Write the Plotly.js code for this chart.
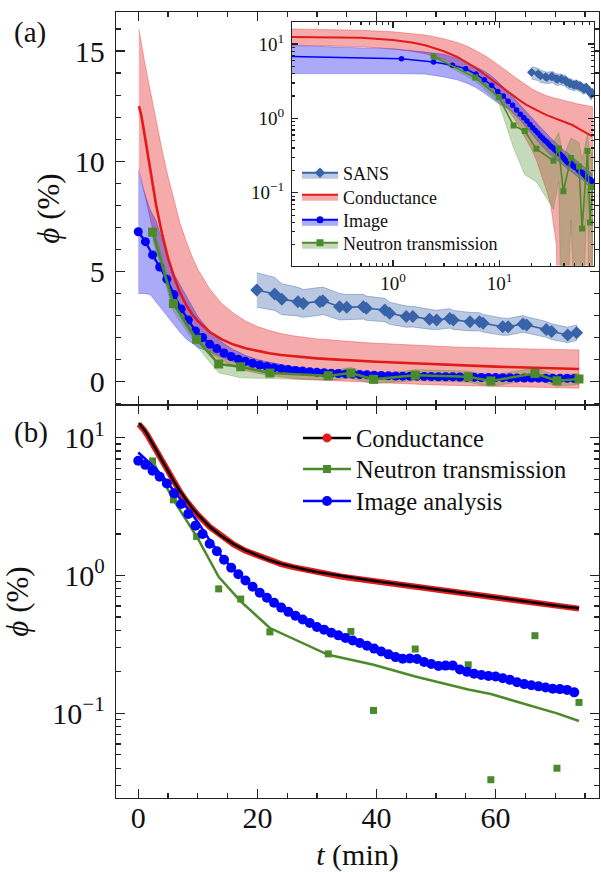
<!DOCTYPE html>
<html><head><meta charset="utf-8">
<script src="https://cdn.plot.ly/plotly-3.0.1.min.js"></script>
<style>html,body{margin:0;padding:0;background:#fff}#chart{width:601px;height:872px}</style>
</head><body><div id="chart"></div>
<script>
// ---------- data ----------
// Conductance (t in min, phi in %)
const tCond = [0.1,0.5,1,1.5,2,3,4,5,6,7,8,9,10,12,14,16,18,20,22,24,26,28,30,32,34,36,38,40,42,44,46,48,50,52,53,54,56,58,60,62,64,66,68,70,72,74];
const cond = [12.5,12.1,11.3,10.5,9.6,8.0,6.7,5.6,4.75,4.05,3.5,3.07,2.75,2.25,1.92,1.68,1.51,1.39,1.29,1.21,1.15,1.1,1.055,1.02,0.985,0.955,0.93,0.905,0.88,0.855,0.835,0.815,0.795,0.775,0.75,0.74,0.72,0.70,0.68,0.665,0.65,0.635,0.62,0.605,0.59,0.575];
const condFit = [12.8,12.2,11.4,10.6,9.7,8.05,6.75,5.65,4.8,4.1,3.55,3.1,2.77,2.26,1.93,1.69,1.52,1.395,1.295,1.215,1.155,1.105,1.06,1.025,0.99,0.96,0.935,0.91,0.885,0.862,0.84,0.82,0.8,0.779,0.768,0.757,0.735,0.713,0.692,0.672,0.654,0.637,0.621,0.606,0.592,0.578];
const condUpper = [16.0,15.3,14.6,13.9,13.2,11.8,10.5,9.3,8.2,7.2,6.4,5.7,5.1,4.2,3.55,3.1,2.75,2.5,2.32,2.18,2.08,2.0,1.94,1.9,1.85,1.81,1.77,1.74,1.71,1.69,1.66,1.63,1.61,1.59,1.57,1.56,1.55,1.53,1.52,1.5,1.49,1.48,1.47,1.46,1.45,1.44];
const condLower = [9.7,9.2,8.6,8.0,7.4,6.2,5.2,4.3,3.6,3.0,2.5,2.1,1.8,1.3,0.95,0.7,0.5,0.38,0.28,0.2,0.14,0.1,0.07,0.04,0.02,0.0,-0.02,-0.05,-0.07,-0.09,-0.11,-0.13,-0.15,-0.17,-0.19,-0.2,-0.21,-0.22,-0.23,-0.24,-0.25,-0.26,-0.27,-0.28,-0.29,-0.3];

// Image analysis
const tImg = [0,1.2,2.4,3.6,4.8,6.0,7.2,8.4,9.6,10.8,12.0,13.2,14.4,15.6,16.8,18.0,19.2,20.4,21.6,22.8,24.0,25.2,26.4,27.6,28.8,30.0,31.2,32.4,33.6,34.8,36.0,37.2,38.4,39.6,40.8,42.0,43.2,44.4,45.6,46.8,48.0,49.2,50.4,51.6,52.8,54.0,55.2,56.4,57.6,58.8,60.0,61.2,62.4,63.6,64.8,66.0,67.2,68.4,69.6,70.8,72.0,73.2];
const img = [6.8,6.35,5.75,5.2,4.65,3.95,3.3,2.8,2.3,2.0,1.7,1.5,1.3,1.14,1.02,0.92,0.83,0.75,0.69,0.635,0.585,0.545,0.51,0.48,0.452,0.423,0.405,0.385,0.368,0.352,0.338,0.324,0.31,0.295,0.281,0.268,0.256,0.249,0.25,0.248,0.236,0.228,0.221,0.222,0.222,0.208,0.2,0.194,0.19,0.187,0.185,0.18,0.175,0.168,0.163,0.16,0.157,0.154,0.151,0.15,0.148,0.142];
const tImgBand = [0,1,2,3,4,5,6,7,8,9,10,12,14,16,18,20,25,30,35,40,45,50,55,60,65,70,73.2];
const imgUpper = [9.6,8.6,7.8,7.3,6.4,5.6,4.9,4.4,3.9,3.4,2.95,2.3,1.8,1.45,1.2,1.0,0.72,0.55,0.44,0.37,0.33,0.29,0.26,0.23,0.21,0.19,0.18];
const imgLower = [4.0,4.0,3.95,3.6,3.3,2.95,2.6,2.25,1.95,1.75,1.55,1.35,1.1,0.9,0.74,0.62,0.42,0.32,0.27,0.23,0.2,0.18,0.16,0.15,0.13,0.12,0.11];
const tImgFit = [0,2,4,6,8,10,12,14,16,18,20,24,28,32,36,40,45,50,55,60,65,70,73.2];
const imgFit = [7.8,6.5,5.3,4.1,3.15,2.45,1.8,1.38,1.1,0.92,0.77,0.58,0.47,0.39,0.34,0.29,0.255,0.228,0.205,0.185,0.165,0.152,0.143];

// Neutron transmission
const tNeu = [2.4,5.9,9.8,13.5,17.2,22.1,31.9,35.7,39.5,46.5,55.4,59.2,66.6,70.3,74.0];
const neu = [6.78,3.54,1.92,0.80,0.675,0.39,0.27,0.393,0.105,0.293,0.225,0.033,0.366,0.040,0.12];
const neuErr = [0.35,0.35,0.3,0.4,0.5,0.25,0.21,0.25,0.2,0.25,0.25,0.25,0.25,0.25,0.25];
const neuFit = [6.8,3.54,1.92,0.98,0.65,0.416,0.266,0.245,0.225,0.185,0.149,0.138,0.112,0.10,0.088];

// SANS
const tSans = [19.9,22.9,24.1,26.8,27.7,30.5,31.0,33.8,35.0,37.8,38.3,41.4,42.2,45.0,46.1,48.9,50.1,52.3,52.9,55.7,57.3,57.9,61.2,62.1,64.6,65.2,68.5,69.4,72.1,73.6];
const sans = [4.16,3.98,3.74,3.63,3.55,3.63,3.67,3.40,3.37,3.40,3.33,3.25,3.10,2.95,2.95,2.83,2.80,2.87,2.80,2.72,2.72,2.65,2.49,2.49,2.62,2.57,2.37,2.27,2.12,2.22];
const sansErr = [0.78,0.75,0.7,0.65,0.63,0.62,0.62,0.6,0.58,0.56,0.55,0.53,0.5,0.48,0.47,0.45,0.44,0.44,0.43,0.42,0.41,0.4,0.39,0.38,0.38,0.37,0.36,0.36,0.35,0.35];

// labels
const legendMain = ['Conductance','Neutron transmission','Image analysis'];
const legendInset = ['SANS','Conductance','Image','Neutron transmission'];
const logTickVals = [0.1,1,10];
const logTickText = ['10<sup>\u22121</sup>','10<sup>0</sup>','10<sup>1</sup>'];

// ---------- styling ----------
const FONT = 'Liberation Serif, Times New Roman, serif';
const RED = '#e31a1a', RED_BAND = 'rgba(230,35,35,0.38)', RED_EDGE = 'rgba(230,35,35,0.35)';
const BLUE = '#0000ff', BLUE_BAND = 'rgba(20,20,235,0.36)', BLUE_EDGE = 'rgba(20,20,235,0.3)';
const GREEN = '#4a8a2a', GREEN_BAND = 'rgba(76,140,43,0.32)', GREEN_EDGE = 'rgba(76,140,43,0.3)';
const SANSC = '#3863a8', SANS_BAND = 'rgba(56,99,168,0.35)', SANS_EDGE = 'rgba(56,99,168,0.4)';
const AX = '#222';

const pos = t => (t > 0 ? t : 0.1);        // log axis cannot show t = 0
const clip = v => Math.max(v, 1e-4);        // log axis cannot show v <= 0
const add = (a, b) => a.map((v, i) => v + b[i]);
const sub = (a, b) => a.map((v, i) => v - b[i]);

function band(t, up, lo, color, edge, xa, ya, log) {
  const tx = log ? t.map(pos) : t;
  const u = log ? up.map(clip) : up, l = log ? lo.map(clip) : lo;
  return {x: tx.concat(tx.slice().reverse()), y: u.concat(l.slice().reverse()),
    type: 'scatter', mode: 'lines', fill: 'toself', fillcolor: color,
    line: {color: edge, width: 1}, xaxis: xa, yaxis: ya, showlegend: false, hoverinfo: 'skip'};
}
function series(t, v, color, mode, marker, lw, xa, ya, log) {
  return {x: log ? t.map(pos) : t, y: log ? v.map(clip) : v, type: 'scatter', mode: mode,
    line: {color: color, width: lw}, marker: marker, xaxis: xa, yaxis: ya, showlegend: false, hoverinfo: 'skip'};
}

const traces = [];
// ---- panel (a) and its inset ----
const panelA = [
  {xa: 'x2', ya: 'y2', log: false, lwR: 2.6, lwB: 2.2, lwG: 2.6, lwS: 1.6, mB: 9, mG: 9, mS: 10},
  {xa: 'x3', ya: 'y3', log: true, lwR: 2.0, lwB: 1.5, lwG: 1.6, lwS: 1.3, mB: 5.5, mG: 6, mS: 7}
];
for (const p of panelA) {
  traces.push(band(tCond, condUpper, condLower, RED_BAND, RED_EDGE, p.xa, p.ya, p.log));
  traces.push(band(tImgBand, imgUpper, imgLower, BLUE_BAND, BLUE_EDGE, p.xa, p.ya, p.log));
  traces.push(band(tNeu, add(neu, neuErr), sub(neu, neuErr), GREEN_BAND, GREEN_EDGE, p.xa, p.ya, p.log));
  traces.push(band(tSans, add(sans, sansErr), sub(sans, sansErr), SANS_BAND, SANS_EDGE, p.xa, p.ya, p.log));
  traces.push(series(tCond, cond, RED, 'lines', {}, p.lwR, p.xa, p.ya, p.log));
  traces.push(series(tImg, img, BLUE, 'lines+markers', {size: p.mB, color: BLUE}, p.lwB, p.xa, p.ya, p.log));
  traces.push(series(tNeu, neu, GREEN, 'lines+markers', {size: p.mG, color: GREEN, symbol: 'square'}, p.lwG, p.xa, p.ya, p.log));
  traces.push(series(tSans, sans, SANSC, 'lines+markers', {size: p.mS, color: SANSC, symbol: 'diamond'}, p.lwS, p.xa, p.ya, p.log));
}
// inset legend entries (one legend box per entry, for exact row spacing)
const insetStyles = [
  {c: SANSC, b: SANS_BAND, mode: 'lines+markers', m: {symbol: 'diamond', size: 8, color: SANSC}, lg: 'legend2'},
  {c: RED, b: RED_BAND, mode: 'lines', m: {}, lg: 'legend5'},
  {c: BLUE, b: BLUE_BAND, mode: 'lines+markers', m: {symbol: 'circle', size: 7, color: BLUE}, lg: 'legend6'},
  {c: GREEN, b: GREEN_BAND, mode: 'lines+markers', m: {symbol: 'square', size: 7, color: GREEN}, lg: 'legend7'}
];
legendInset.forEach((name, i) => {
  const st = insetStyles[i];
  traces.push({x: [null], y: [null], type: 'scatter', mode: st.mode, name: name, fill: 'toself',
    fillcolor: st.b, line: {color: st.c, width: 2}, marker: st.m, xaxis: 'x3', yaxis: 'y3', legend: st.lg});
});

// ---- panel (b) ----
traces.push(series(tCond, cond, RED, 'lines', {}, 6, 'x', 'y', false));
traces.push(series(tCond, condFit, '#000', 'lines', {}, 2.5, 'x', 'y', false));
traces.push(series(tNeu, neuFit, GREEN, 'lines', {}, 2.5, 'x', 'y', false));
traces.push(series(tNeu, neu, GREEN, 'markers', {size: 7, color: GREEN, symbol: 'square'}, 0, 'x', 'y', false));
traces.push(series(tImgFit, imgFit, BLUE, 'lines', {}, 2.5, 'x', 'y', false));
traces.push(series(tImg, img, BLUE, 'markers', {size: 10, color: BLUE}, 0, 'x', 'y', false));
const mainStyles = [
  {c: '#000', m: {symbol: 'circle', size: 9, color: RED}, lg: 'legend'},
  {c: GREEN, m: {symbol: 'square', size: 8, color: GREEN}, lg: 'legend3'},
  {c: BLUE, m: {symbol: 'circle', size: 10, color: BLUE}, lg: 'legend4'}
];
legendMain.forEach((name, i) => {
  traces.push({x: [null], y: [null], type: 'scatter', mode: 'lines+markers', name: name,
    line: {color: mainStyles[i].c, width: 2.5}, marker: mainStyles[i].m, xaxis: 'x', yaxis: 'y', legend: mainStyles[i].lg});
});

// ---------- axes ----------
function minorLog(d0, d1) {
  const v = [];
  for (let d = d0; d <= d1; d++) for (let k = 2; k <= 9; k++) v.push(k * Math.pow(10, d));
  return v;
}
const W = 601, H = 872;
const base = {showline: true, linecolor: AX, linewidth: 1.3, mirror: 'allticks', ticks: 'inside',
  tickcolor: AX, tickwidth: 1.2, showgrid: false, zeroline: false, color: '#111'};
const xDom = [116/W, 599/W];
function lg(x, yc, size, iw) {
  return {x: x/W, y: 1 - yc/H, xanchor: 'left', yanchor: 'middle', bgcolor: 'rgba(0,0,0,0)',
    font: {size: size, family: FONT, color: '#111'}, itemwidth: iw, tracegroupgap: 0};
}
const layout = {
  width: W, height: H, margin: {l: 0, r: 0, t: 0, b: 0}, paper_bgcolor: '#fff', plot_bgcolor: '#fff',
  font: {family: FONT, color: '#111'}, hovermode: false,
  xaxis: Object.assign({}, base, {domain: xDom, anchor: 'y', range: [-3.74, 77.36], tick0: 0, dtick: 20, ticklen: 9,
    minor: {dtick: 5, ticklen: 5, ticks: 'inside', tickcolor: AX, showgrid: false},
    tickfont: {size: 30}, ticklabelstandoff: -7,
    title: {text: '<i>t</i> (min)', font: {size: 30}, standoff: 10}}),
  yaxis: Object.assign({}, base, {domain: [74/H, 467/H], anchor: 'x', type: 'log', range: [-1.614, 1.237],
    tickmode: 'array', tickvals: logTickVals, ticktext: logTickText, ticklen: 9,
    minor: {tickmode: 'array', tickvals: minorLog(-2, 1), ticklen: 5, ticks: 'inside', tickcolor: AX, showgrid: false},
    tickfont: {size: 30}, ticklabelstandoff: 4,
    title: {text: '<i>\u03d5</i> (%)', font: {size: 31}, standoff: 16}}),
  xaxis2: Object.assign({}, base, {domain: xDom, anchor: 'y2', range: [-3.74, 77.36], tick0: 0, dtick: 20, ticklen: 9,
    minor: {dtick: 5, ticklen: 5, ticks: 'inside', tickcolor: AX, showgrid: false}, showticklabels: false}),
  yaxis2: Object.assign({}, base, {domain: [467/H, 860/H], anchor: 'x2', range: [-1.06, 16.77], tick0: 0, dtick: 5, ticklen: 9,
    minor: {dtick: 1, ticklen: 5, ticks: 'inside', tickcolor: AX, showgrid: false},
    tickfont: {size: 30}, ticklabelstandoff: 4,
    title: {text: '<i>\u03d5</i> (%)', font: {size: 31}, standoff: 6}}),
  xaxis3: Object.assign({}, base, {domain: [292/W, 594/W], anchor: 'y3', type: 'log', range: [-0.947, 1.884],
    tickmode: 'array', tickvals: [1, 10], ticktext: logTickText.slice(1), ticklen: 6, linewidth: 1.1,
    minor: {tickmode: 'array', tickvals: minorLog(-1, 1), ticklen: 3, ticks: 'inside', tickcolor: AX, showgrid: false},
    tickfont: {size: 19}, ticklabelstandoff: 0}),
  yaxis3: Object.assign({}, base, {domain: [(H-265.7)/H, (H-21.7)/H], anchor: 'x3', type: 'log', range: [-1.98, 1.30],
    tickmode: 'array', tickvals: logTickVals, ticktext: logTickText, ticklen: 6, linewidth: 1.1,
    minor: {tickmode: 'array', tickvals: minorLog(-2, 1), ticklen: 3, ticks: 'inside', tickcolor: AX, showgrid: false},
    tickfont: {size: 19}, ticklabelstandoff: 3}),
  legend: lg(298, 438, 24.5, 48),
  legend3: lg(298, 469, 24.5, 48),
  legend4: lg(298, 501, 24.5, 48),
  legend2: lg(297, 173, 18, 36),
  legend5: lg(297, 197, 18, 36),
  legend6: lg(297, 220, 18, 36),
  legend7: lg(297, 243, 18, 36),
  annotations: [
    {text: '(a)', xref: 'paper', yref: 'paper', x: 12/W, y: 1 - 33/H, xanchor: 'left', yanchor: 'middle', showarrow: false, font: {size: 29}},
    {text: '(b)', xref: 'paper', yref: 'paper', x: 12/W, y: 1 - 432/H, xanchor: 'left', yanchor: 'middle', showarrow: false, font: {size: 29}}
  ]
};
Plotly.newPlot('chart', traces, layout, {staticPlot: true, displayModeBar: false});
</script></body></html>
